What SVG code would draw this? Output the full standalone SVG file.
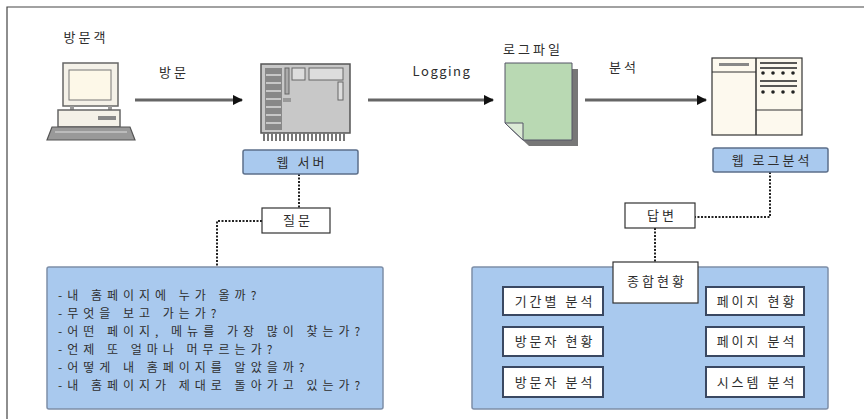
<svg xmlns="http://www.w3.org/2000/svg" width="864" height="419" viewBox="0 0 864 419">
  <style>
    .t { font-family: "Noto Sans CJK KR", "Noto Sans", sans-serif; fill: #2e2e2e; font-size: 13px; letter-spacing: 3px; }
    .tc { text-anchor: middle; }
    .q { font-size: 12px; letter-spacing: 5px; }
    .lbl { fill: #a9c9ee; stroke: #5c6f8a; stroke-width: 1.5; }
    .wbox { fill: #fff; stroke: #333; stroke-width: 1.2; }
    .ibox { fill: #fff; stroke: #3a4862; stroke-width: 2; }
    .panel { fill: #a9c9ee; stroke: #7d8ea8; stroke-width: 1.5; }
    .flow { stroke: #666; stroke-width: 3; fill: none; marker-end: url(#arr); }
    .dot { stroke: #222; stroke-width: 2; stroke-dasharray: 2 1.5; fill: none; }
    .ic { stroke: #666; stroke-width: 1.5; }
  </style>
  <defs>
    <marker id="arr" viewBox="0 0 10 10" refX="9" refY="5" markerWidth="3.5" markerHeight="3.5" orient="auto">
      <path d="M0,0 L10,5 L0,10 z" fill="#111"/>
    </marker>
  </defs>

  <rect width="864" height="419" fill="#fff"/>
  <!-- outer frame -->
  <path d="M7,419 V7 H864" fill="none" stroke="#444" stroke-width="1.2"/>

  <!-- connectors -->
  <g id="connectors">
    <line class="flow" x1="135" y1="100" x2="242" y2="100"/>
    <line class="flow" x1="368" y1="100" x2="493" y2="100"/>
    <line class="flow" x1="585" y1="100" x2="706" y2="100"/>
    <path class="dot" d="M299,174 V208"/>
    <path class="dot" d="M262,221 H217 V267"/>
    <path class="dot" d="M770,172 V217 H695"/>
    <path class="dot" d="M655,228 V262"/>
    <text class="t tc" x="174" y="77">방문</text>
    <text class="t tc" x="442" y="76" style="letter-spacing:1.5px">Logging</text>
    <text class="t tc" x="624" y="72">분석</text>
  </g>

  <!-- visitor computer -->
  <g id="visitor">
    <text class="t tc" x="86" y="42">방문객</text>
    <rect x="63" y="63" width="55" height="43" fill="#f4f1e8" class="ic"/>
    <rect x="69" y="70" width="42" height="30" fill="#fdf8e8" stroke="#777" stroke-width="1"/>
    <rect x="70" y="106" width="4" height="4" fill="#999"/>
    <rect x="108" y="106" width="4" height="4" fill="#999"/>
    <rect x="58" y="110" width="62" height="17" fill="#f4f1e8" class="ic"/>
    <rect x="98" y="116" width="18" height="4" fill="#888"/>
    <path d="M52,127 H130 L135,140 H47 Z" fill="#999" stroke="#555" stroke-width="1.2"/>
    <line x1="55" y1="132" x2="127" y2="132" stroke="#ddd" stroke-width="1"/>
  </g>

  <!-- web server -->
  <g id="web-server">
    <rect x="261" y="64" width="89" height="69" fill="#c8c8c8" stroke="#555" stroke-width="1.5"/>
    <rect x="265" y="68" width="17" height="62" fill="#888"/>
    <g stroke="#ddd" stroke-width="1.5">
      <line x1="266" y1="75" x2="281" y2="75"/><line x1="266" y1="83" x2="281" y2="83"/>
      <line x1="266" y1="91" x2="281" y2="91"/><line x1="266" y1="99" x2="281" y2="99"/>
      <line x1="266" y1="107" x2="281" y2="107"/><line x1="266" y1="115" x2="281" y2="115"/>
      <line x1="266" y1="123" x2="281" y2="123"/>
    </g>
    <rect x="285" y="68" width="4" height="26" fill="#aaa" stroke="#666" stroke-width="1"/>
    <rect x="292" y="68" width="13" height="12" fill="#ddd" stroke="#666" stroke-width="1"/>
    <rect x="309" y="68" width="34" height="12" fill="#ddd" stroke="#666" stroke-width="1"/>
    <rect x="338" y="82" width="5" height="18" fill="#ddd" stroke="#666" stroke-width="1"/>
    <rect x="283" y="98" width="8" height="4" fill="#999"/>
    <path d="M264,133 V141 M268,133 V141 M272,133 V141 M276,133 V141 M280,133 V141 M284,133 V141 M288,133 V141 M292,133 V141 M296,133 V141 M300,133 V141 M304,133 V141 M308,133 V141 M312,133 V141 M316,133 V141 M320,133 V141 M324,133 V141 M328,133 V141 M332,133 V141 M336,133 V141 M340,133 V141 M344,133 V141" stroke="#777" stroke-width="2"/>
    <rect class="lbl" x="243" y="150" width="115" height="24" rx="2"/>
    <text class="t tc" x="302" y="167">웹 서버</text>
  </g>

  <!-- log file -->
  <g id="log-file">
    <text class="t tc" x="533" y="54">로그파일</text>
    <path d="M511,69 H578 V146 H529 L511,129 Z" fill="#777"/>
    <path d="M505,63 H572 V140 H523 L505,123 Z" fill="#b9d9b3" stroke="#556" stroke-width="1"/>
    <path d="M505,123 H523 V140 Z" fill="#dcebd6" stroke="#556" stroke-width="1"/>
  </g>

  <!-- web log analyser -->
  <g id="log-analyser">
    <rect x="712" y="58" width="90" height="77" fill="#fdf9ee" stroke="#333" stroke-width="1.2"/>
    <line x1="756" y1="58" x2="756" y2="135" stroke="#333" stroke-width="1.5"/>
    <line x1="712" y1="72" x2="756" y2="72" stroke="#333" stroke-width="1"/>
    <rect x="719" y="63" width="30" height="3" fill="#888"/>
    <g stroke="#222" stroke-width="1.5">
      <line x1="760" y1="63" x2="797" y2="63"/>
      <line x1="760" y1="68" x2="797" y2="68"/>
      <line x1="760" y1="81" x2="797" y2="81"/>
      <line x1="760" y1="86" x2="797" y2="86"/>
    </g>
    <g fill="#222">
      <circle cx="763" cy="73" r="1.8"/><circle cx="773" cy="73" r="1.8"/><circle cx="783" cy="73" r="1.8"/><circle cx="793" cy="73" r="1.8"/>
      <circle cx="763" cy="92" r="1.8"/><circle cx="773" cy="92" r="1.8"/><circle cx="783" cy="92" r="1.8"/><circle cx="793" cy="92" r="1.8"/>
    </g>
    <line x1="756" y1="110" x2="802" y2="110" stroke="#333" stroke-width="1"/>
    <rect class="lbl" x="713" y="148" width="115" height="24" rx="2"/>
    <text class="t tc" x="772" y="165">웹 로그분석</text>
  </g>

  <!-- question -->
  <g id="question">
    <rect class="wbox" x="262" y="208" width="68" height="25"/>
    <text class="t tc" x="298" y="225">질문</text>
  </g>

  <!-- answer -->
  <g id="answer">
    <rect class="wbox" x="625" y="203" width="70" height="25"/>
    <text class="t tc" x="662" y="220">답변</text>
  </g>

  <!-- questions panel -->
  <g id="questions">
    <rect class="panel" x="47" y="267" width="336" height="142" rx="2"/>
    <g class="t q">
      <text x="58" y="300">-내 홈페이지에 누가 올까?</text>
      <text x="58" y="318">-무엇을 보고 가는가?</text>
      <text x="58" y="336">-어떤 페이지, 메뉴를 가장 많이 찾는가?</text>
      <text x="58" y="354">-언제 또 얼마나 머무르는가?</text>
      <text x="58" y="372">-어떻게 내 홈페이지를 알았을까?</text>
      <text x="58" y="390">-내 홈페이지가 제대로 돌아가고 있는가?</text>
    </g>
  </g>

  <!-- analysis panel -->
  <g id="analysis">
    <rect class="panel" x="472" y="267" width="356" height="142" rx="2"/>
    <g id="summary">
      <rect class="wbox" x="613" y="262" width="85" height="41"/>
      <text class="t tc" x="657" y="286">종합현황</text>
    </g>
    <g id="period"><rect class="ibox" x="503" y="287" width="100" height="28"/><text class="t tc" x="555" y="306">기간별 분석</text></g>
    <g id="visitor-status"><rect class="ibox" x="503" y="327" width="100" height="29"/><text class="t tc" x="555" y="346">방문자 현황</text></g>
    <g id="visitor-analysis"><rect class="ibox" x="503" y="367" width="100" height="30"/><text class="t tc" x="555" y="387">방문자 분석</text></g>
    <g id="page-status"><rect class="ibox" x="706" y="287" width="98" height="28"/><text class="t tc" x="757" y="306">페이지 현황</text></g>
    <g id="page-analysis"><rect class="ibox" x="706" y="327" width="98" height="29"/><text class="t tc" x="757" y="346">페이지 분석</text></g>
    <g id="system-analysis"><rect class="ibox" x="706" y="367" width="98" height="30"/><text class="t tc" x="757" y="387">시스템 분석</text></g>
  </g>
</svg>
